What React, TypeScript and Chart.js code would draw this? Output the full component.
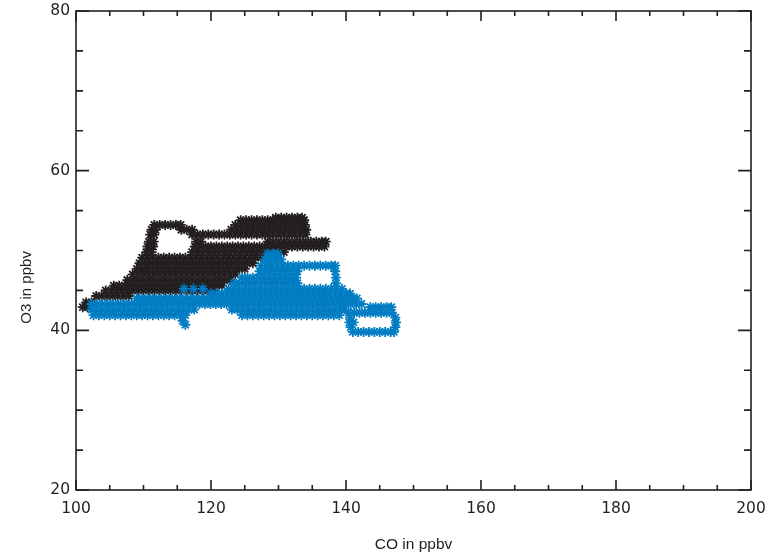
import React, { useEffect, useRef } from "react";
import { Chart, registerables } from "chart.js";

Chart.register(...registerables);

// Axis ranges and tick labels
const xRange = [100, 200];
const yRange = [20, 80];
const xTickStep = 20;
const yTickStep = 20;
const minorStep = 5;
const xTitle = "CO in ppbv";
const yTitle = "O3 in ppbv";

// Black series (CO, O3) rows: [O3 value, CO values]
const blackRows: [number, number[]][] = [
  [42.9, [101.0, 101.7]],
  [43.5, [101.5, 102.3]],
  [44.3, [103.0, 103.8, 104.6, 105.4, 106.2, 107.0, 107.8]],
  [45.0, [104.4, 105.2, 106.0, 106.8, 107.6, 108.4, 109.2, 110.0, 110.8, 111.6, 112.4, 113.2, 114.0, 114.8, 115.6, 116.4, 117.2, 118.0, 118.8, 119.6, 120.4]],
  [45.6, [105.6, 106.4, 107.2, 108.0, 108.8, 109.6, 110.4, 111.2, 112.0, 112.8, 113.6, 114.4, 115.2, 116.0, 116.8, 117.6, 118.4, 119.2, 120.0, 120.8, 121.6]],
  [46.3, [107.6, 108.4, 109.2, 110.0, 110.8, 111.6, 112.4, 113.2, 114.0, 114.8, 115.6, 116.4, 117.2, 118.0, 118.8, 119.6, 120.4, 121.2, 122.0, 122.8]],
  [47.0, [108.4, 109.2, 110.0, 110.8, 111.6, 112.4, 113.2, 114.0, 114.8, 115.6, 116.4, 117.2, 118.0, 118.8, 119.6, 120.4, 121.2, 122.0, 122.8, 123.6]],
  [47.7, [109.0, 109.8, 110.6, 111.4, 112.2, 113.0, 113.8, 114.6, 115.4, 116.2, 117.0, 117.8, 118.6, 119.4, 120.2, 121.0, 121.8, 122.6, 123.4, 124.2, 125.0]],
  [48.4, [109.4, 110.2, 111.0, 111.8, 112.6, 113.4, 114.2, 115.0, 115.8, 116.6, 117.4, 118.2, 119.0, 119.8, 120.6, 121.4, 122.2, 123.0, 123.8, 124.6, 125.4, 126.2]],
  [49.1, [109.8, 110.6, 111.4, 112.2, 113.0, 113.8, 114.6, 115.4, 116.2, 117.0, 117.8, 118.6, 119.4, 120.2, 121.0, 121.8, 122.6, 123.4, 124.2, 125.0, 125.8, 126.6, 127.4]],
  [49.8, [110.4, 111.2, 117.2, 118.0, 118.8, 119.6, 120.4, 121.2, 122.0, 122.8, 123.6, 124.4, 125.2, 126.0, 126.8, 127.6, 128.4, 129.2, 130.0, 130.8]],
  [50.5, [110.6, 111.4, 117.6, 118.4, 119.2, 120.0, 120.8, 121.6, 122.4, 123.2, 124.0, 124.8, 125.6, 126.4, 127.2, 128.0, 128.8, 129.6, 130.4, 131.2, 132.0, 132.8, 133.6, 134.4, 135.2, 136.0, 136.8]],
  [51.1, [110.8, 111.5, 117.8, 118.5, 128.4, 129.2, 130.0, 130.8, 131.6, 132.4, 133.2, 134.0, 134.8, 135.6, 136.4, 137.0]],
  [52.0, [111.0, 111.6, 117.2, 118.0, 118.8, 119.6, 120.4, 121.2, 122.0, 122.8, 123.6, 124.4, 125.2, 126.0, 126.8, 127.6, 128.4, 129.2, 130.0, 130.8, 131.6, 132.4, 133.2, 134.0]],
  [52.6, [111.2, 111.8, 115.6, 116.4, 117.2, 123.0, 123.8, 124.6, 125.4, 126.2, 127.0, 127.8, 128.6, 129.4, 130.2, 131.0, 131.8, 132.6, 133.4, 134.1]],
  [53.2, [111.6, 112.4, 113.2, 114.0, 114.8, 115.5, 123.6, 124.4, 125.2, 126.0, 126.8, 127.6, 128.4, 129.2, 130.0, 130.8, 131.6, 132.4, 133.2, 133.9]],
  [53.8, [124.4, 125.2, 126.0, 126.8, 127.6, 128.4, 129.2, 130.0, 130.8, 131.6, 132.4, 133.2, 133.8]],
  [54.1, [129.6, 130.4, 131.2, 132.0, 132.8, 133.5]],
];

// Blue series (CO, O3) rows: [O3 value, CO values]
const blueRows: [number, number[]][] = [
  [49.6, [128.4, 129.2, 129.9]],
  [48.9, [128.0, 128.8, 129.6, 130.4]],
  [48.1, [127.4, 128.2, 129.0, 129.8, 130.6, 131.4, 132.2, 133.0, 133.8, 134.6, 135.4, 136.2, 137.0, 137.8, 138.4]],
  [47.4, [127.2, 128.0, 128.8, 129.6, 130.4, 131.2, 132.0, 132.8, 138.4]],
  [46.6, [124.6, 125.4, 126.2, 127.0, 127.8, 128.6, 129.4, 130.2, 131.0, 131.8, 132.6, 138.5]],
  [45.9, [123.4, 124.2, 125.0, 125.8, 126.6, 127.4, 128.2, 129.0, 129.8, 130.6, 131.4, 132.2, 132.8, 138.5]],
  [45.2, [116.0, 117.4, 118.8, 122.6, 123.4, 124.2, 125.0, 125.8, 126.6, 127.4, 128.2, 129.0, 129.8, 130.6, 131.4, 132.2, 133.0, 133.8, 134.6, 135.4, 136.2, 137.0, 137.8, 138.6, 139.4]],
  [44.6, [120.0, 120.8, 121.6, 122.4, 123.2, 124.0, 124.8, 125.6, 126.4, 127.2, 128.0, 128.8, 129.6, 130.4, 131.2, 132.0, 132.8, 133.6, 134.4, 135.2, 136.0, 136.8, 137.6, 138.4, 139.2, 140.0, 140.6]],
  [44.0, [109.0, 109.8, 110.6, 111.4, 112.2, 113.0, 113.8, 114.6, 115.4, 116.2, 117.0, 117.8, 118.6, 119.4, 120.2, 121.0, 121.8, 122.6, 123.4, 124.2, 125.0, 125.8, 126.6, 127.4, 128.2, 129.0, 129.8, 130.6, 131.4, 132.2, 133.0, 133.8, 134.6, 135.4, 136.2, 137.0, 137.8, 138.6, 139.4, 140.2, 141.0, 141.6]],
  [43.3, [102.3, 103.1, 103.9, 104.7, 105.5, 106.3, 107.1, 107.9, 108.7, 109.5, 110.3, 111.1, 111.9, 112.7, 113.5, 114.3, 115.1, 115.9, 116.7, 117.5, 118.3, 119.1, 119.9, 120.7, 121.5, 122.3, 123.1, 123.9, 124.7, 125.5, 126.3, 127.1, 127.9, 128.7, 129.5, 130.3, 131.1, 131.9, 132.7, 133.5, 134.3, 135.1, 135.9, 136.7, 137.5, 138.3, 139.1, 139.9, 140.7, 141.5, 142.3]],
  [42.9, [143.6, 144.4, 145.2, 146.0, 146.7]],
  [42.6, [102.3, 103.1, 103.9, 104.7, 105.5, 106.3, 107.1, 107.9, 108.7, 109.5, 110.3, 111.1, 111.9, 112.7, 113.5, 114.3, 115.1, 115.9, 116.7, 117.5, 123.1, 123.9, 124.7, 125.5, 126.3, 127.1, 127.9, 128.7, 129.5, 130.3, 131.1, 131.9, 132.7, 133.5, 134.3, 135.1, 135.9, 136.7, 137.5, 138.3, 139.1, 139.8]],
  [42.2, [140.4, 141.2, 142.0, 142.8, 143.6, 144.4, 145.2, 146.0, 146.8]],
  [41.9, [102.6, 103.4, 104.2, 105.0, 105.8, 106.6, 107.4, 108.2, 109.0, 109.8, 110.6, 111.4, 112.2, 113.0, 113.8, 114.6, 115.4, 116.2, 124.6, 125.4, 126.2, 127.0, 127.8, 128.6, 129.4, 130.2, 131.0, 131.8, 132.6, 133.4, 134.2, 135.0, 135.8, 136.6, 137.4, 138.2, 139.0]],
  [41.6, [140.6, 147.3]],
  [41.2, [115.8]],
  [41.0, [140.5, 141.1, 147.4]],
  [40.7, [116.2]],
  [40.4, [140.7, 147.3]],
  [39.8, [141.0, 141.8, 142.6, 143.4, 144.2, 145.0, 145.8, 146.6, 147.1]],
];

const INK = "#231f20";
const BLUE = "#007cc3";

function toPoints(rows: [number, number[]][]) {
  const pts: { x: number; y: number }[] = [];
  rows.forEach(([o3, cos]) => cos.forEach((co) => pts.push({ x: co, y: o3 })));
  return pts;
}

const frameTicks = {
  id: "frameTicks",
  afterDatasetsDraw(chart: any) {
    const { ctx, chartArea, scales } = chart;
    const { left, right, top, bottom } = chartArea;
    const xs = scales.x;
    const ys = scales.y;
    ctx.save();
    ctx.strokeStyle = INK;
    ctx.lineWidth = 1.6;
    ctx.strokeRect(left, top, right - left, bottom - top);
    ctx.beginPath();
    for (let v = xRange[0]; v <= xRange[1]; v += minorStep) {
      const px = xs.getPixelForValue(v);
      const len = v % xTickStep === 0 ? 10 : 5;
      ctx.moveTo(px, bottom);
      ctx.lineTo(px, bottom - len);
      ctx.moveTo(px, top);
      ctx.lineTo(px, top + len);
    }
    for (let v = yRange[0]; v <= yRange[1]; v += minorStep) {
      const py = ys.getPixelForValue(v);
      const len = v % yTickStep === 0 ? 13 : 7;
      ctx.moveTo(left, py);
      ctx.lineTo(left + len, py);
      ctx.moveTo(right, py);
      ctx.lineTo(right - len, py);
    }
    ctx.stroke();
    // y axis title (placed below the centre of the axis, as in the original)
    ctx.fillStyle = INK;
    ctx.font = "15px 'Liberation Sans'";
    ctx.textAlign = "center";
    ctx.textBaseline = "middle";
    ctx.translate(27, top + (bottom - top) * 0.577);
    ctx.rotate(-Math.PI / 2);
    ctx.fillText(yTitle, 0, 0);
    ctx.restore();
  },
};

export default function App() {
  const ref = useRef<HTMLCanvasElement | null>(null);
  useEffect(() => {
    if (!ref.current) return;
    const chart = new Chart(ref.current, {
      type: "scatter",
      data: {
        datasets: [
          {
            label: "blue",
            data: toPoints(blueRows),
            pointStyle: "star",
            pointRadius: 5,
            pointBorderWidth: 1.8,
            borderColor: BLUE,
            backgroundColor: BLUE,
            order: 0,
          },
          {
            label: "black",
            data: toPoints(blackRows),
            pointStyle: "star",
            pointRadius: 5,
            pointBorderWidth: 1.8,
            borderColor: INK,
            backgroundColor: INK,
            order: 1,
          },
        ],
      },
      options: {
        animation: false,
        responsive: true,
        maintainAspectRatio: false,
        events: [],
        layout: { padding: { top: 11, right: 16, left: 0, bottom: 0 } },
        plugins: { legend: { display: false }, tooltip: { enabled: false } },
        scales: {
          x: {
            type: "linear",
            min: xRange[0],
            max: xRange[1],
            ticks: {
              stepSize: xTickStep,
              padding: 10,
              maxRotation: 0,
              color: INK,
              font: { family: "DejaVu Sans", size: 15.5 },
            },
            grid: { display: false, drawTicks: false },
            border: { display: false },
            title: {
              display: true,
              text: xTitle,
              color: INK,
              font: { family: "Liberation Sans", size: 15.5 },
              padding: { top: 0, bottom: 4 },
            },
            afterFit(s: any) {
              s.height = 68;
              s.paddingLeft = 0;
              s.paddingRight = 0;
            },
          },
          y: {
            type: "linear",
            min: yRange[0],
            max: yRange[1],
            ticks: {
              stepSize: yTickStep,
              padding: 6,
              color: INK,
              font: { family: "DejaVu Sans", size: 15.5 },
            },
            grid: { display: false, drawTicks: false },
            border: { display: false },
            title: { display: false },
            afterFit(s: any) {
              s.width = 76;
              s.paddingTop = 0;
              s.paddingBottom = 0;
            },
          },
        },
      },
      plugins: [frameTicks],
    });
    return () => chart.destroy();
  }, []);
  return (
    <div style={{ position: "absolute", left: 0, top: 0, width: 767, height: 558, background: "#fff" }}>
      <canvas ref={ref} />
    </div>
  );
}
